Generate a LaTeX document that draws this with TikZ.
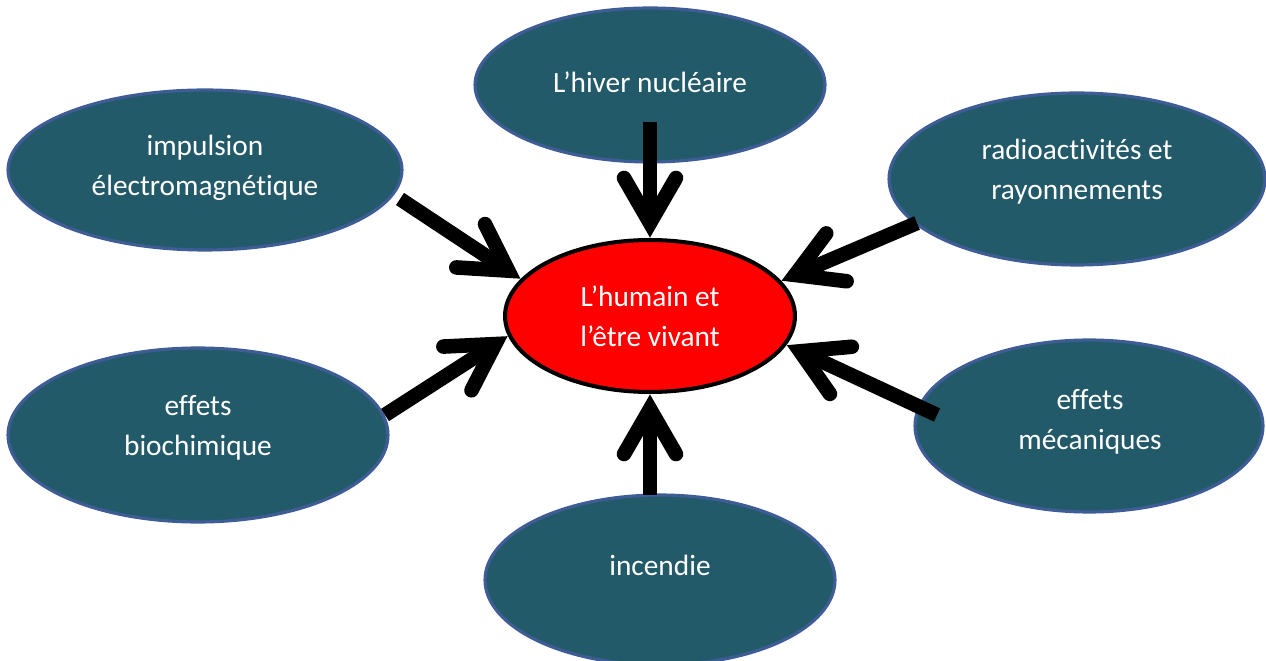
\documentclass[tikz,border=0pt]{standalone}
\usepackage{fontspec}
\setmainfont{Carlito}[Ligatures=NoCommon]
\usetikzlibrary{calc,shapes.geometric}
\definecolor{tealfill}{RGB}{35,90,105}
\definecolor{blueline}{RGB}{62,92,150}
\newcommand\hitarrow[3]{%
  \coordinate (v#3) at ($(#2)!0.30cm!(#1)$);
  \draw[shaftline] (#1) -- (v#3);
  \draw[barbline] ($(v#3)!1.04cm!30:(#1)$) -- (v#3) -- ($(v#3)!1.04cm!-30:(#1)$);}
\begin{document}
\begin{tikzpicture}[x=0.02cm,y=-0.02cm,
  bubble/.style={ellipse,draw=blueline,line width=1.8pt,fill=tealfill,inner sep=0pt},
  words/.style={text=white,inner sep=0pt,align=center,font=\fontsize{16.7pt}{22.8pt}\selectfont},
  core/.style={ellipse,draw=black,line width=2.3pt,fill=red,words},
  shaftline/.style={line width=8.3pt,line cap=butt},
  barbline/.style={line width=8.3pt,line cap=round,line join=miter}]
\useasboundingbox (0,0) rectangle (1266,661);
\clip (0,0) rectangle (1266,661);
\node[bubble,minimum width=7cm,minimum height=3.08cm] (hiver) at (650,85) {};
\node[bubble,minimum width=7.88cm,minimum height=3.2cm] (emp) at (205,170) {};
\node[bubble,minimum width=7.52cm,minimum height=3.44cm] (radio) at (1077,179) {};
\node[bubble,minimum width=7.6cm,minimum height=3.48cm] (bio) at (198,435) {};
\node[bubble,minimum width=6.96cm,minimum height=3.44cm] (meca) at (1089,426) {};
\node[bubble,minimum width=7cm,minimum height=3.4cm] (feu) at (660,580) {};
\node[words] (thiver) at (650,82) {L’hiver nucléaire};
\node[words] (temp) at (205,168) {impulsion\\électromagnétique};
\node[words] (tradio) at (1077,172) {radioactivités et\\rayonnements};
\node[words] (tbio) at (198,428) {effets\\biochimique};
\node[words] (tmeca) at (1090,422) {effets\\mécaniques};
\node[words] (tfeu) at (660,565) {incendie};
\node[core,minimum width=5.8cm,minimum height=3.04cm] (hum) at (650,316) {L’humain et\\l’être vivant};
\coordinate (s1) at (650,122);
\coordinate (s2) at (400,199);
\coordinate (s3) at (917,223);
\coordinate (s4) at (385,415);
\coordinate (s5) at (937,415);
\coordinate (s6) at (650,495);
\hitarrow{s1}{hum.north}{1}
\hitarrow{s2}{hum.164.5}{2}
\hitarrow{s3}{hum.15.5}{3}
\hitarrow{s4}{hum.188.4}{4}
\hitarrow{s5}{hum.348.4}{5}
\hitarrow{s6}{hum.south}{6}
\end{tikzpicture}
\end{document}
